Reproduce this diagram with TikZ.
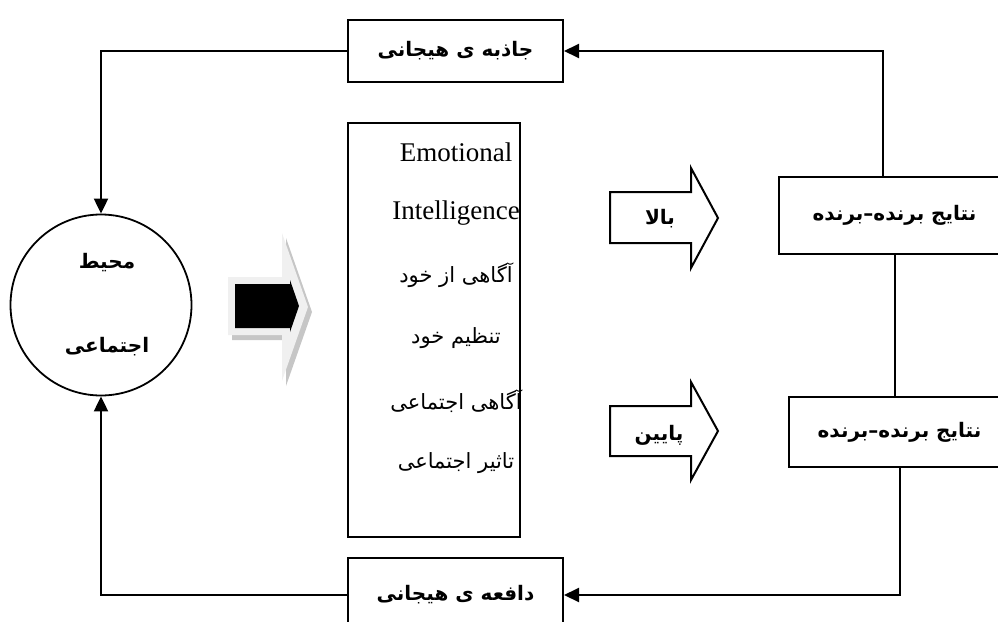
\documentclass[tikz,border=0pt]{standalone}
\usepackage{fontspec}
\setmainfont{Liberation Serif}
\newfontfamily\fa[Script=Arabic]{DejaVu Sans}
\TeXXeTstate=1
\usetikzlibrary{arrows.meta}

\tikzset{
  lbl/.style={font=\fa\bfseries\fontsize{20}{24}\selectfont},
  item/.style={font=\fa\fontsize{21}{25}\selectfont},
  latin/.style={font=\fontsize{27}{30}\selectfont},
  box/.style={draw, line width=2pt, inner sep=0pt},
  conn/.style={line width=2pt},
  arr/.style={conn, -{Triangle[length=15pt,width=14pt]}},
  blockarrow/.style={draw, line width=2pt, fill=white, line join=miter},
}

\begin{document}
\begin{tikzpicture}[x=1pt,y=-1pt]
\useasboundingbox (0,0) rectangle (998,621);

% social environment
\node[circle, draw, line width=1.8pt, minimum size=181pt, inner sep=0pt] (env) at (101,305) {};
\node[lbl] (envA) at (107,263) {\beginR محیط\endR};
\node[lbl] (envB) at (107,347) {\beginR اجتماعی\endR};

% emotional attraction / repulsion
\node[box, lbl, minimum width=215pt, minimum height=62pt] (attr) at (455.5,51) {\beginR جاذبه ی هیجانی\endR};
\node[box, lbl, minimum width=215pt, minimum height=74pt] (repel) at (455.5,595) {\beginR دافعه ی هیجانی\endR};

% emotional intelligence box
\node[box, minimum width=172pt, minimum height=414pt] (ei) at (434,330) {};
\node[latin] (ei1) at (456,152) {Emotional};
\node[latin] (ei2) at (456,213) {Intelligence};
\node[item] (ei3) at (456,275) {\beginR آگاهی از خود\endR};
\node[item] (ei4) at (456,338) {\beginR تنظیم خود\endR};
\node[item] (ei5) at (456,401) {\beginR آگاهی اجتماعی\endR};
\node[item] (ei6) at (456,463) {\beginR تاثیر اجتماعی\endR};

% win-win outcomes
\node[box, lbl, minimum width=231pt, minimum height=77pt] (win1) at (894.5,215.5) {\beginR نتایج برنده–برنده\endR};
\node[box, lbl, minimum width=221pt, minimum height=70pt] (win2) at (899.5,432) {\beginR نتایج برنده–برنده\endR};

% shadowed block arrow
\fill[gray!45] (232,282) -- (286,282) -- (286,238) -- (312,312) -- (286,386) -- (286,340) -- (232,340) -- cycle;
\fill[gray!12] (228,277) -- (282,277) -- (282,233) -- (308,307) -- (282,381) -- (282,335) -- (228,335) -- cycle;
\fill[black] (235,284) -- (290,284) -- (290,280) -- (299,306) -- (290,332) -- (290,328) -- (235,328) -- cycle;

% high / low arrows
\draw[blockarrow] (610,192) -- (691,192) -- (691,168) -- (718,218) -- (691,268) -- (691,243) -- (610,243) -- cycle;
\node[lbl] (up) at (660,219) {\beginR بالا\endR};
\draw[blockarrow] (610,406) -- (691,406) -- (691,382) -- (718,431) -- (691,480) -- (691,456) -- (610,456) -- cycle;
\node[lbl] (down) at (659,435) {\beginR پایین\endR};

% connectors
\coordinate (t1) at ([xshift=-12pt]win1.north);
\draw[arr] (t1) |- (attr.east);
\draw[arr] (attr.west) -| (env.north);
\draw[conn] (win1.south) -- (win1.south |- win2.north);
\draw[arr] (win2.south) |- (repel.east);
\draw[arr] (repel.west) -| (env.south);
\end{tikzpicture}
\end{document}
